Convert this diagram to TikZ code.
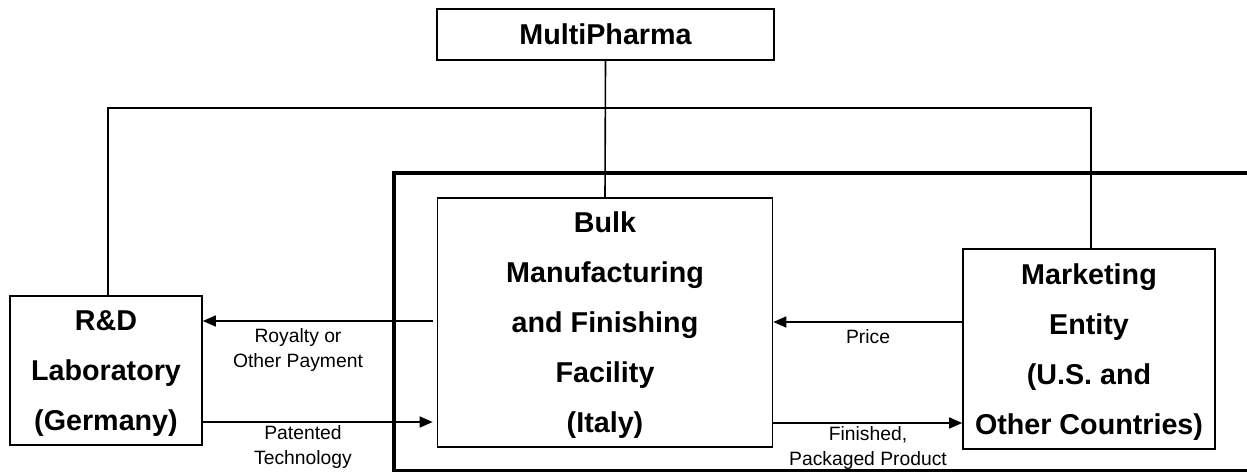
\documentclass[tikz,border=0pt]{standalone}
\usepackage{fontspec}
\setmainfont{Liberation Sans}
\usetikzlibrary{arrows.meta}
\begin{document}
\begin{tikzpicture}[x=1pt,y=-1pt,
  box/.style={draw,line width=1.6pt,rectangle,inner sep=0pt,align=center,
    text depth=0pt,font=\fontsize{28.7}{50}\selectfont\bfseries},
  lbl/.style={align=center,inner sep=0pt,font=\fontsize{19.3}{25}\selectfont},
  conn/.style={line width=1.6pt},
  arr/.style={line width=1.6pt,-{Triangle[length=13pt,width=11pt]}},
  thick frame/.style={line width=4pt}]
\useasboundingbox[fill=white] (0,0) rectangle (1247,471);
% thick enclosing frame (open to the right and bottom)
\draw[thick frame] (1260,173) -- (394,173) -- (394,471) -- (1260,471);
% boxes
\node[box,minimum width=337pt,minimum height=51pt] (mp) at (605.5,34.5) {MultiPharma};
\node[box,minimum width=335pt,minimum height=249pt,fill=white] (bulk) at (605,322.5)
  {Bulk\\Manufacturing\\and Finishing\\Facility\\(Italy)};
\node[box,minimum width=192pt,minimum height=149pt] (rd) at (106,370.5)
  {R\&D\\Laboratory\\(Germany)};
\node[box,minimum width=252pt,minimum height=200pt] (mkt) at (1089,349)
  {Marketing\\Entity\\(U.S. and\\Other Countries)};
% ownership lines
\coordinate (tl) at (108,108);
\coordinate (tr) at (1091,108);
\draw[conn] (mp.south) -- (bulk.north);
\draw[conn] (rd.north -| tl) -- (tl) -- (tr) -- (mkt.north -| tr);
% flows
\draw[arr,shorten <=4pt] (bulk.west |- 0,321) -- (rd.east |- 0,321);
\draw[arr,shorten >=4pt] (rd.east |- 0,422) -- (bulk.west |- 0,422);
\draw[arr] (mkt.west |- 0,322) -- (bulk.east |- 0,322);
\draw[arr] (bulk.east |- 0,423) -- (mkt.west |- 0,423);
% labels
\node[lbl] (l1) at (298,350) {Royalty or\\Other Payment};
\node[lbl] (l2) at (303,447) {Patented\\Technology};
\node[lbl] (l3) at (868,337) {Price};
\node[lbl] (l4) at (868,448) {Finished,\\Packaged Product};
\end{tikzpicture}
\end{document}
